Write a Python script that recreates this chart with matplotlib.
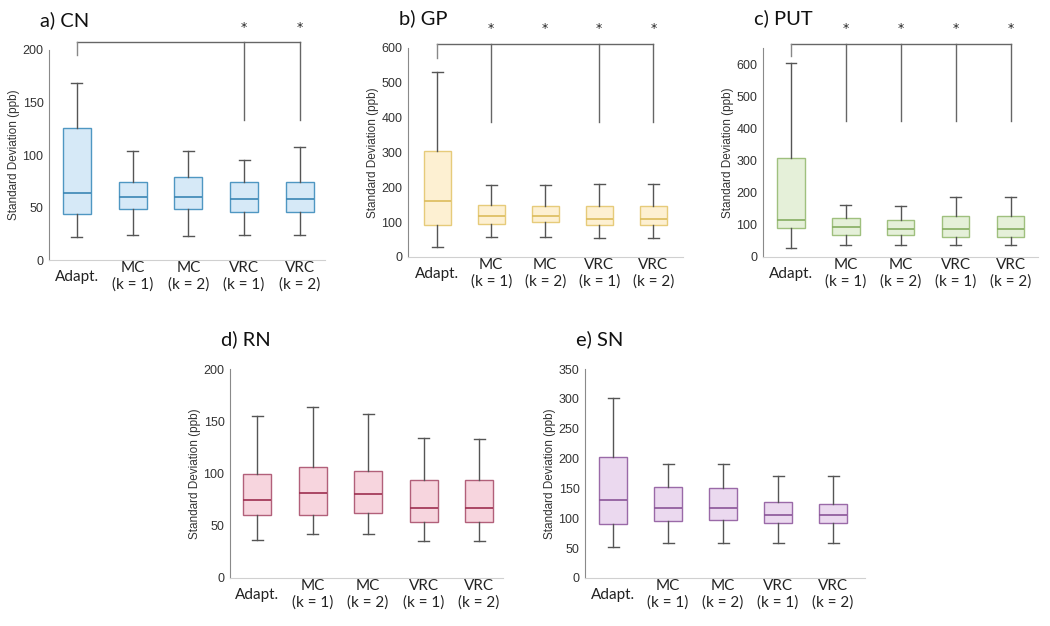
import matplotlib
matplotlib.use("Agg")
import matplotlib.pyplot as plt

W, H = 1050, 626

labels = ["Adapt.", "MC\n(k = 1)", "MC\n(k = 2)", "VRC\n(k = 1)", "VRC\n(k = 2)"]

# five-number summaries per group: whisker low, Q1, median, Q3, whisker high
cn = [[22, 44, 64, 126, 169], [24, 49, 60, 74, 104], [23, 49, 60, 79, 104],
      [24, 46, 58, 74, 95], [24, 46, 58, 74, 108]]
gp = [[28, 92, 162, 305, 530], [58, 95, 117, 150, 208], [58, 100, 117, 146, 208],
      [55, 92, 110, 146, 210], [55, 92, 110, 146, 210]]
put = [[28, 90, 115, 307, 603], [38, 67, 93, 120, 162], [38, 67, 88, 115, 160],
       [38, 63, 88, 127, 187], [38, 63, 88, 127, 187]]
rn = [[36, 60, 75, 100, 155], [42, 60, 81, 106, 164], [42, 62, 80, 102, 157],
      [35, 54, 67, 94, 134], [35, 54, 67, 94, 133]]
sn = [[52, 90, 130, 203, 302], [58, 96, 118, 153, 191], [58, 97, 118, 151, 191],
      [58, 92, 105, 128, 171], [58, 92, 105, 124, 171]]

# significance brackets: (bar height, adapt tick bottom, line bottom, star height, groups with line, groups with star)
cn_sig = (208, 195, 133, 221, [4, 5], [4, 5])
gp_sig = (612, 572, 388, 657, [2, 4, 5], [2, 3, 4, 5])
put_sig = (661, 624, 423, 711, [2, 3, 4, 5], [2, 3, 4, 5])

panels = [
    # title, data, ylim, yticks, fill, edge, median, pixel box (l, r, t, b), xlim, sig
    ("a) CN", cn, 200, [0, 50, 100, 150, 200], "#d6e9f7", "#4f97c2", "#3a86b4",
     (49, 325, 50, 260), (0.5, 5.45), cn_sig),
    ("b) GP", gp, 600, [0, 100, 200, 300, 400, 500, 600], "#fdf0d2", "#e6cb7a", "#dcbc5c",
     (408, 683, 48, 257), (0.46, 5.55), gp_sig),
    ("c) PUT", put, 650, [0, 100, 200, 300, 400, 500, 600], "#e5f0d9", "#9fc07e", "#86ad62",
     (763, 1038, 48, 257), (0.49, 5.5), put_sig),
    ("d) RN", rn, 200, [0, 50, 100, 150, 200], "#f7d5de", "#b2607a", "#9e2f50",
     (230, 503, 369, 578), (0.51, 5.43), None),
    ("e) SN", sn, 350, [0, 50, 100, 150, 200, 250, 300, 350], "#ebd9ef", "#9a6aa8", "#8a5598",
     (585, 865, 369, 578), (0.49, 5.58), None),
]

fig = plt.figure(figsize=(W / 100, H / 100), dpi=100)
fig.patch.set_facecolor("white")

for title, data, ytop, yticks, fill, edge, medc, (l, r, t, b), xlim, sig in panels:
    ax = fig.add_axes([l / W, 1 - b / H, (r - l) / W, (b - t) / H])
    stats = [dict(whislo=d[0], q1=d[1], med=d[2], q3=d[3], whishi=d[4], fliers=[])
             for d in data]
    pos = list(range(1, 6))
    ax.bxp(stats, positions=pos, widths=0.5, capwidths=0.2, patch_artist=True,
           showfliers=False,
           boxprops=dict(facecolor=fill, edgecolor=edge, linewidth=1.0),
           medianprops=dict(color=medc, linewidth=1.2),
           whiskerprops=dict(color="#555555", linewidth=1.0),
           capprops=dict(color="#555555", linewidth=1.0))
    ax.set_xlim(*xlim)
    ax.set_ylim(0, ytop)
    ax.set_yticks(yticks)
    ax.set_yticklabels([str(v) for v in yticks], family="Liberation Sans",
                       fontsize=9, color="#333333")
    ax.set_xticks(pos)
    ax.set_xticklabels(labels, family="Lato", fontsize=11, color="#222222",
                       va="center", linespacing=1.2)
    ax.tick_params(axis="x", length=0, pad=12)
    ax.tick_params(axis="y", length=0, pad=4)
    for s in ["top", "right"]:
        ax.spines[s].set_visible(False)
    ax.spines["left"].set_color("#8a8a8a")
    ax.spines["bottom"].set_color("#d0d0d0")
    ax.set_ylabel("Standard Deviation (ppb)", family="Liberation Sans", fontsize=8.5,
                  color="#333333", labelpad=1.5)
    ax.set_facecolor("white")
    fig.text((l - 9) / W, 1 - (t - 30) / H, title, family="Lato", fontsize=14.5,
             color="#111111", va="center", ha="left")

    if sig is not None:
        ybar, yadapt, ylow, ystar, lines, stars = sig
        end = max(lines)
        ax.plot([1, end], [ybar, ybar], color="#666666", lw=1.0, clip_on=False)
        ax.plot([1, 1], [yadapt, ybar], color="#888888", lw=1.0, clip_on=False)
        for g in lines:
            ax.plot([g, g], [ylow, ybar], color="#666666", lw=1.0, clip_on=False)
        for g in stars:
            ax.text(g, ystar, "*", ha="center", va="center", fontsize=9,
                    color="#222222", clip_on=False)

fig.savefig("out.png", dpi=100, facecolor="white")
